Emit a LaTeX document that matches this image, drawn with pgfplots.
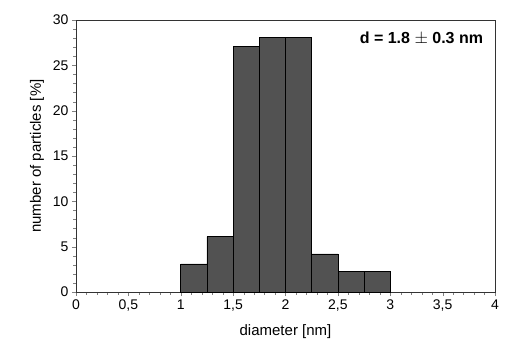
\documentclass[border=0pt]{standalone}
\usepackage{pgfplots}
\pgfplotsset{compat=1.18}
\usepackage{fontspec}
\setmainfont{Liberation Sans}
\begin{document}
\begin{tikzpicture}[x=1pt,y=1pt]
\begin{axis}[
  name=ax, at={(0,0)}, anchor=south west,
  scale only axis, width=419pt, height=272pt,
  xmin=0, xmax=4, ymin=0, ymax=30,
  xtick={0,0.5,...,4}, ytick={0,5,...,30},
  minor x tick num=4, minor y tick num=4,
  tick align=outside, tickpos=left,
  major tick length=4pt, minor tick length=2.5pt,
  /pgf/number format/use comma,
  /pgf/number format/assume math mode=true,
  ticklabel style={font=\fontsize{14}{16}\selectfont},
  xlabel={diameter [nm]}, ylabel={number of particles [\%]},
  label style={font=\fontsize{15}{17}\selectfont},
  xlabel style={yshift=-7pt},
  ylabel style={yshift=2pt},
  axis line style={line width=0.7pt, black!80},
]
\addplot[ybar interval, fill=black!68, draw=black, line width=0.6pt]
  coordinates {(1,3.1) (1.25,6.1) (1.5,27.1) (1.75,28.1) (2,28.1) (2.25,4.2) (2.5,2.3) (2.75,2.3) (3,2.3)};
\node[anchor=east, font=\bfseries\fontsize{16}{18}\selectfont] at (axis cs:3.92,28.0) {d = 1.8 $\pm$ 0.3 nm};
\end{axis}
\pgfresetboundingbox
\path[use as bounding box] (-76,-49) rectangle (429,292);
\end{tikzpicture}
\end{document}
